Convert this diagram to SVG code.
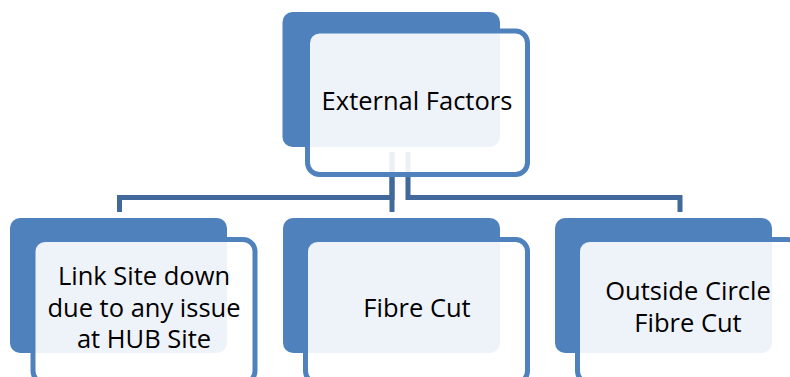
<svg xmlns="http://www.w3.org/2000/svg" width="790" height="377" viewBox="0 0 790 377">
<style>
.back{fill:#4F81BD;}
.front{fill:#FFFFFF;fill-opacity:0.9;stroke:#4F81BD;stroke-width:5;}
.conn{fill:none;stroke:#41699B;stroke-width:5;stroke-linejoin:miter;}
.lbl{font-family:"Open Sans","Liberation Sans",Arial,sans-serif;font-size:25.5px;fill:#000000;text-anchor:middle;}
</style>
<rect width="790" height="377" fill="#FFFFFF"/>
<g id="connectors">
<polyline class="conn" points="392,152 392,212"/>
<polyline class="conn" points="392,152 392,197.5 119.5,197.5 119.5,212"/>
<polyline class="conn" points="408,152 408,197.5 680,197.5 680,212"/>
</g>
<g id="node-external-factors">
<rect class="back" x="282.5" y="12" width="217.5" height="135" rx="10"/>
<rect class="front" x="307.5" y="31" width="220" height="143.5" rx="12"/>
<text class="lbl" x="417" y="110">External Factors</text>
</g>
<g id="node-link-site">
<rect class="back" x="10" y="218" width="217" height="135" rx="10"/>
<rect class="front" x="33" y="239.5" width="222" height="143.5" rx="12"/>
<text class="lbl" x="144" y="285">Link Site down</text>
<text class="lbl" x="144" y="317">due to any issue</text>
<text class="lbl" x="144" y="348">at HUB Site</text>
</g>
<g id="node-fibre-cut">
<rect class="back" x="283" y="218" width="217" height="135" rx="10"/>
<rect class="front" x="305.5" y="239.5" width="222" height="143.5" rx="12"/>
<text class="lbl" x="417" y="317">Fibre Cut</text>
</g>
<g id="node-outside-circle">
<rect class="back" x="555" y="218" width="217" height="135" rx="10"/>
<rect class="front" x="577.5" y="239.5" width="222" height="143.5" rx="12"/>
<text class="lbl" x="688" y="300">Outside Circle</text>
<text class="lbl" x="688" y="332">Fibre Cut</text>
</g>
</svg>
